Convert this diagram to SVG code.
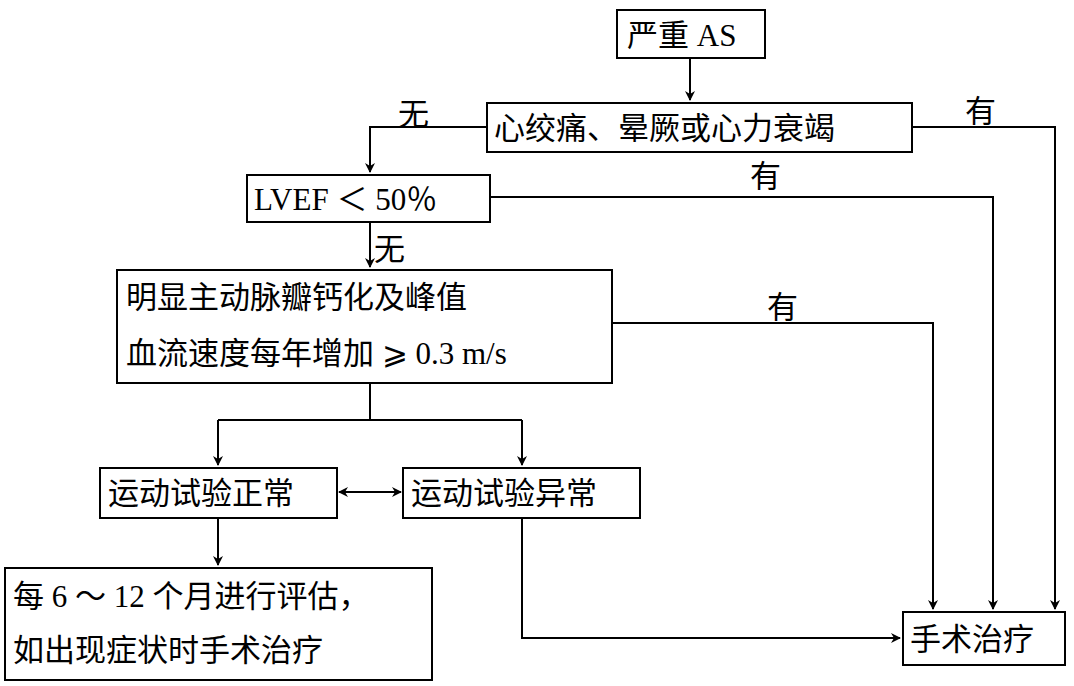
<svg xmlns="http://www.w3.org/2000/svg" width="1074" height="686" viewBox="0 0 1074 686">
<defs>
<marker id="ah" markerWidth="10" markerHeight="10" refX="9" refY="5" orient="auto-start-reverse" markerUnits="userSpaceOnUse"><path d="M0,0 L10,5 L0,10 L3,5 Z" fill="#000"/></marker>
</defs>
<style>
.b{fill:#fff;stroke:#000;stroke-width:2}
text{font-family:"Liberation Serif","Noto Sans CJK SC",serif;font-size:31px;fill:#000}
.c path{fill:none;stroke:#000;stroke-width:2}
</style>
<rect width="1074" height="686" fill="#fff"/>
<g class="c">
<path d="M690,58 V100" marker-end="url(#ah)"/>
<path d="M487,127 H370 V172" marker-end="url(#ah)"/>
<path d="M912,127 H1055 V609" marker-end="url(#ah)"/>
<path d="M490,197 H993 V609" marker-end="url(#ah)"/>
<path d="M370,222 V267" marker-end="url(#ah)"/>
<path d="M612,323 H933 V609" marker-end="url(#ah)"/>
<path d="M370,383 V420 M218,420 H522"/>
<path d="M218,420 V465" marker-end="url(#ah)"/>
<path d="M522,420 V465" marker-end="url(#ah)"/>
<path d="M339,492 H401" marker-start="url(#ah)" marker-end="url(#ah)"/>
<path d="M218,518 V565" marker-end="url(#ah)"/>
<path d="M522,518 V638 H900" marker-end="url(#ah)"/>
<text x="398" y="125">无</text>
<text x="965" y="122">有</text>
<text x="750" y="187">有</text>
<text x="374" y="260">无</text>
<text x="767" y="318">有</text>
</g>
<g id="n1"><rect class="b" x="617" y="10" width="148" height="48"/><text x="627" y="46">严重 AS</text></g>
<g id="n2"><rect class="b" x="487" y="103" width="425" height="49"/><text x="494" y="139">心绞痛、晕厥或心力衰竭</text></g>
<g id="n3"><rect class="b" x="247" y="175" width="243" height="47"/><text x="254" y="210">LVEF ＜ 50％</text></g>
<g id="n4"><rect class="b" x="117" y="270" width="495" height="113"/><text x="126" y="308">明显主动脉瓣钙化及峰值</text><text x="126" y="364">血流速度每年增加 ⩾ 0.3 m/s</text></g>
<g id="n5"><rect class="b" x="100" y="468" width="237" height="50"/><text x="108" y="504">运动试验正常</text></g>
<g id="n6"><rect class="b" x="403" y="468" width="237" height="50"/><text x="411" y="504">运动试验异常</text></g>
<g id="n7"><rect class="b" x="5" y="568" width="427" height="112"/><text x="13" y="607">每 6 ～ 12 个月进行评估，</text><text x="13" y="661">如出现症状时手术治疗</text></g>
<g id="n8"><rect class="b" x="903" y="612" width="162" height="53"/><text x="910" y="650">手术治疗</text></g>
</svg>
